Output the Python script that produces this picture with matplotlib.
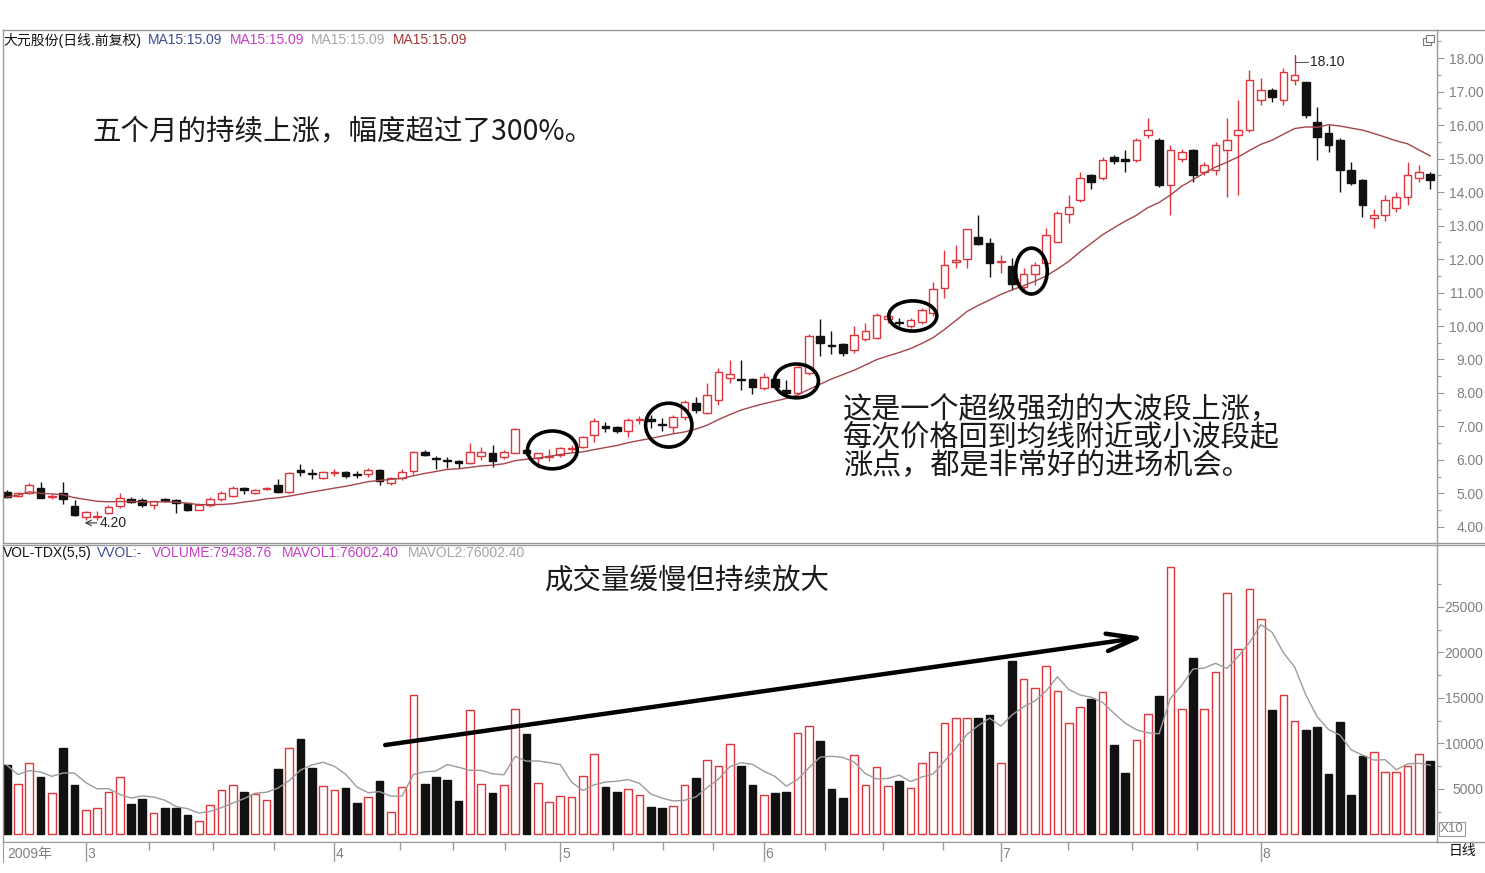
import matplotlib
matplotlib.use("Agg")
import matplotlib.pyplot as plt
import numpy as np
import pandas as pd
from matplotlib.patches import Ellipse, Rectangle
from matplotlib.lines import Line2D

plt.rcParams["font.family"] = ["Liberation Sans", "Noto Sans CJK SC", "DejaVu Sans"]

# daily candles, 2009 (大元股份, 前复权)
opens = [5.05, 4.91, 5.01, 5.17, 4.90, 5.00, 4.63, 4.29, 4.31, 4.43,
         4.63, 4.83, 4.81, 4.66, 4.82, 4.79, 4.71, 4.51, 4.66, 4.83,
         4.93, 5.17, 5.00, 5.13, 5.25, 5.05, 5.69, 5.62, 5.45, 5.62,
         5.65, 5.58, 5.57, 5.70, 5.32, 5.45, 5.68, 6.25, 6.07, 6.00,
         5.98, 5.90, 6.12, 6.22, 6.08, 6.22, 6.30, 6.05, 6.10, 6.15,
         6.33, 6.40, 6.75, 7.00, 6.97, 6.85, 7.20, 7.22, 7.08, 6.98,
         7.27, 7.69, 7.41, 7.79, 8.44, 8.43, 8.42, 8.14, 8.41, 8.09,
         7.99, 8.60, 9.70, 9.42, 9.45, 9.28, 9.60, 9.63, 10.20, 10.12,
         10.00, 10.12, 10.40, 11.13, 11.90, 11.99, 12.67, 12.49, 11.90, 11.80,
         11.16, 11.55, 11.87, 12.52, 13.34, 13.76, 14.50, 14.42, 15.05, 14.98,
         14.96, 15.70, 15.55, 14.21, 15.00, 15.25, 14.60, 14.66, 15.25, 15.70,
         15.85, 16.75, 17.04, 16.75, 17.34, 17.28, 16.09, 15.76, 15.55, 14.66,
         14.36, 13.22, 13.31, 13.52, 13.84, 14.41, 14.55]
highs = [5.10, 5.05, 5.30, 5.35, 4.98, 5.35, 4.79, 4.47, 4.48, 4.65,
         5.01, 4.88, 4.87, 4.78, 4.85, 4.82, 4.72, 4.70, 4.88, 5.07,
         5.22, 5.19, 5.12, 5.20, 5.43, 5.63, 5.88, 5.72, 5.66, 5.72,
         5.68, 5.67, 5.76, 5.72, 5.48, 5.72, 6.28, 6.30, 6.12, 6.10,
         6.00, 6.52, 6.40, 6.45, 6.30, 6.95, 6.32, 6.22, 6.34, 6.40,
         6.44, 6.72, 7.25, 7.13, 7.00, 7.25, 7.30, 7.34, 7.24, 7.35,
         7.78, 7.89, 8.29, 8.74, 8.98, 8.98, 8.44, 8.60, 8.45, 8.40,
         8.80, 9.75, 10.20, 9.85, 9.50, 10.00, 10.10, 10.40, 10.35, 10.25,
         10.25, 10.55, 11.30, 12.27, 12.42, 12.90, 13.31, 12.62, 12.12, 12.02,
         11.72, 11.92, 12.92, 13.42, 13.90, 14.60, 14.55, 15.05, 15.10, 15.25,
         15.60, 16.20, 15.60, 15.40, 15.30, 15.30, 14.90, 15.50, 16.20, 16.75,
         17.64, 17.40, 17.10, 17.70, 18.10, 17.30, 16.54, 16.00, 15.60, 14.90,
         14.40, 13.50, 13.90, 14.00, 14.90, 14.80, 14.60]
lows = [4.85, 4.88, 4.97, 4.85, 4.83, 4.68, 4.33, 4.20, 4.22, 4.38,
        4.56, 4.70, 4.60, 4.54, 4.73, 4.43, 4.49, 4.50, 4.60, 4.78,
        4.90, 4.98, 4.98, 5.10, 5.02, 5.00, 5.52, 5.42, 5.42, 5.52,
        5.45, 5.46, 5.50, 5.25, 5.25, 5.40, 5.58, 6.12, 5.72, 5.75,
        5.75, 5.88, 6.00, 5.80, 6.02, 6.20, 6.15, 5.75, 5.98, 6.10,
        6.20, 6.35, 6.55, 6.83, 6.80, 6.70, 7.08, 6.94, 6.85, 6.80,
        7.20, 7.40, 7.38, 7.64, 8.29, 8.09, 7.97, 8.10, 8.12, 7.95,
        7.90, 8.55, 9.10, 9.15, 9.10, 9.20, 9.55, 9.60, 10.10, 10.00,
        9.95, 10.05, 10.30, 10.83, 11.72, 11.72, 12.42, 11.47, 11.57, 11.07,
        11.07, 11.22, 11.80, 12.50, 13.07, 13.70, 14.10, 14.35, 14.85, 14.60,
        14.90, 15.60, 14.15, 13.31, 14.90, 14.30, 14.50, 14.50, 13.85, 13.90,
        15.80, 16.60, 16.70, 16.60, 17.20, 16.20, 14.96, 15.20, 14.00, 14.20,
        13.25, 12.93, 13.15, 13.40, 13.60, 14.30, 14.10]
closes = [4.89, 5.01, 5.25, 4.86, 4.92, 4.83, 4.35, 4.44, 4.34, 4.61,
          4.86, 4.73, 4.66, 4.76, 4.77, 4.71, 4.51, 4.65, 4.83, 5.00,
          5.16, 5.10, 5.10, 5.16, 5.05, 5.60, 5.65, 5.59, 5.63, 5.64,
          5.52, 5.55, 5.70, 5.38, 5.45, 5.65, 6.25, 6.15, 6.03, 5.97,
          5.90, 6.25, 6.25, 5.98, 6.25, 6.92, 6.20, 6.20, 6.13, 6.35,
          6.36, 6.70, 7.15, 6.95, 6.85, 7.20, 7.23, 7.17, 7.05, 7.27,
          7.74, 7.49, 7.94, 8.64, 8.56, 8.40, 8.19, 8.49, 8.17, 7.99,
          8.79, 9.70, 9.50, 9.40, 9.20, 9.72, 9.85, 10.33, 10.30, 10.10,
          10.17, 10.47, 11.10, 11.82, 11.97, 12.89, 12.45, 11.89, 11.93, 11.25,
          11.55, 11.82, 12.72, 13.38, 13.54, 14.42, 14.30, 14.96, 14.92, 14.94,
          15.55, 15.85, 14.21, 15.25, 15.20, 14.50, 14.80, 15.40, 15.55, 15.85,
          17.34, 17.04, 16.84, 17.58, 17.49, 16.30, 15.64, 15.40, 14.66, 14.27,
          13.61, 13.31, 13.76, 13.85, 14.52, 14.60, 14.37]
volumes = [7600, 5530, 7880, 6340, 4500, 9450, 5420, 2670, 2930, 4620,
           6340, 3330, 3880, 2310, 2860, 2860, 2160, 1500, 3190, 4910,
           5380, 4620, 4470, 3740, 7140, 9450, 10500, 7250, 5270, 4910,
           5050, 3480, 4140, 5860, 2420, 5160, 15300, 5570, 6340, 5970,
           3630, 13630, 5530, 4500, 5380, 13740, 11020, 5680, 3590, 4250,
           4100, 6450, 8790, 5160, 4650, 5020, 4360, 3000, 2860, 3080,
           5380, 6230, 8130, 7470, 9960, 7510, 5420, 4360, 4540, 4620,
           11130, 11900, 10220, 5020, 3990, 8680, 5380, 7360, 5270, 5820,
           5130, 7880, 9050, 12270, 12820, 12820, 12820, 13080, 7880, 19090,
           17110, 16080, 18540, 15710, 12200, 13990, 14840, 15680, 9850, 6700,
           10330, 13190, 15160, 29340, 13740, 19340, 13740, 17800, 26480, 20370,
           26920, 23630, 13630, 15270, 12450, 11430, 11790, 6590, 12310, 4290,
           8570, 9010, 6810, 6810, 7510, 8870, 8020]

month_starts = [7, 29, 49, 67, 88, 111]
month_labels = ["3", "4", "5", "6", "7", "8"]
week_ticks = [12.6, 18.3, 23.7, 34.8, 39.5, 44.1, 53.7, 58.1, 62.5,
              72.4, 77.6, 82.9, 93.9, 99.6, 105.4]

RED = "#e0353c"
BLK = "#111111"
MA_COL = "#a3464a"
GRID = "#9a9a9a"
TXT = "#808080"
CJK = ["Noto Sans CJK SC", "DejaVu Sans"]

W, H = 1485, 873


def rect(x0, y0, x1, y1):
    return [x0 / W, 1 - y1 / H, (x1 - x0) / W, (y1 - y0) / H]


def hline(y, x0, x1, color=GRID, lw=1.0):
    fig.add_artist(Line2D([x0 / W, x1 / W], [1 - y / H, 1 - y / H], color=color, lw=lw))


o = np.array(opens)
c = np.array(closes)
hi = np.array(highs)
lo = np.array(lows)
x = np.arange(len(o))
up = c >= o
col = np.where(up, RED, BLK)
face = np.where(up, "white", BLK)

fig = plt.figure(figsize=(W / 100, H / 100), dpi=100)
ax1 = fig.add_axes(rect(3, 30, 1437, 543))
ax2 = fig.add_axes(rect(3, 545, 1437, 842))
ax3 = fig.add_axes(rect(3, 842, 1437, 862))

# price panel
ax1.vlines(x, lo, hi, colors=col, lw=1, zorder=1)
ax1.bar(x, np.maximum(np.abs(c - o), 0.02), bottom=np.minimum(o, c), width=0.68,
        color=face, edgecolor=col, lw=1, zorder=2)
ma15 = pd.Series(closes).rolling(15, min_periods=1).mean()
ax1.plot(x, ma15, color=MA_COL, lw=1, zorder=3)
ax1.set_xlim(-0.33, 126.6)
ax1.set_ylim(3.52, 18.84)

# volume panel
ax2.bar(x, volumes, width=0.68, color=face, edgecolor=col, lw=1)
mavol = pd.Series(volumes).rolling(5, min_periods=1).mean()
ax2.plot(x, mavol, color="#9c9c9c", lw=1)
ax2.set_xlim(-0.33, 126.6)
ax2.set_ylim(-846, 31790)

for ax, major, minor, fmt in [
    (ax1, np.arange(4, 19), np.arange(4.5, 18.6, 1.0), "{:.2f}"),
    (ax2, np.arange(5000, 25001, 5000), np.arange(2500, 27501, 5000), "{:d}"),
]:
    ax.set_xticks([])
    ax.yaxis.tick_right()
    ax.set_yticks(major)
    ax.set_yticks(minor, minor=True)
    ax.set_yticklabels([fmt.format(v) for v in major])
    ax.tick_params(axis="y", which="major", length=5, width=0.8, color=GRID,
                   labelcolor=TXT, labelsize=10, pad=28.5)
    ax.tick_params(axis="y", which="minor", length=3, width=0.8, color=GRID)
    plt.setp(ax.get_yticklabels(), ha="right")
    for s in ax.spines.values():
        s.set_color(GRID)
        s.set_linewidth(1)

# date strip
ax3.set_xlim(-0.33, 126.6)
ax3.set_ylim(0, 1)
ax3.set_xticks([])
ax3.set_yticks([])
for name in ["bottom", "right"]:
    ax3.spines[name].set_visible(False)
for name in ["top", "left"]:
    ax3.spines[name].set_color(GRID)
ax3.vlines(month_starts, 0, 1, color=GRID, lw=1)
ax3.vlines(week_ticks, 0.62, 1, color=GRID, lw=1)
ax3.text(0.05, 0.42, "2009年", color=TXT, fontsize=10, va="center", ha="left")
for m, lab in zip(month_starts, month_labels):
    ax3.text(m + 0.15, 0.42, lab, color=TXT, fontsize=10, va="center", ha="left")

# headers
y_h1 = 1 - 40 / H
fig.text(3 / W, y_h1, "大元股份(日线.前复权)", fontsize=10, va="center", color="#111111")
for xp, cc in [(148, "#3f4b8f"), (230, "#c43fc4"), (311, "#a6a6a6"), (393, "#a33434")]:
    fig.text(xp / W, y_h1, "MA15:15.09", fontsize=10, va="center", color=cc)
y_h2 = 1 - 553 / H
fig.text(3 / W, y_h2, "VOL-TDX(5,5)", fontsize=10, va="center", color="#111111")
fig.text(97 / W, y_h2, "VVOL:-", fontsize=10, va="center", color="#3f4b8f")
fig.text(152 / W, y_h2, "VOLUME:79438.76", fontsize=10, va="center", color="#c43fc4")
fig.text(282 / W, y_h2, "MAVOL1:76002.40", fontsize=10, va="center", color="#c43fc4")
fig.text(408 / W, y_h2, "MAVOL2:76002.40", fontsize=10, va="center", color="#a6a6a6")

# high / low marks
ax1.annotate("18.10", xy=(114, 18.10), xytext=(115.4, 17.88), fontsize=10, color="#222222",
             va="center", ha="left",
             arrowprops=dict(arrowstyle="-", lw=0.8, color="#555555", shrinkA=0, shrinkB=0,
                             connectionstyle="angle,angleA=180,angleB=90,rad=0"))
ax1.annotate("4.20", xy=(6.9, 4.12), xytext=(8.2, 4.12), fontsize=10, color="#222222",
             va="center", ha="left",
             arrowprops=dict(arrowstyle="->", lw=0.8, color="#333333", shrinkA=0, shrinkB=0))

# circled pull-backs to the moving average
for cx, cy, ew, eh in [(48.3, 6.30, 4.4, 1.13), (58.6, 7.04, 4.1, 1.31),
                       (69.9, 8.36, 3.9, 1.01), (80.2, 10.30, 4.25, 0.90),
                       (90.7, 11.64, 2.8, 1.37)]:
    ax1.add_patch(Ellipse((cx, cy), ew, eh, fill=False, lw=2.6, ec="black", zorder=5))

# volume trend arrow
ax2.annotate("", xy=(100.7, 21680), xytext=(33.5, 9810),
             arrowprops=dict(arrowstyle="->,head_length=1.2,head_width=0.35", lw=3.2,
                             color="black", mutation_scale=18, shrinkA=0, shrinkB=0))

# commentary
fig.text(92 / W, 1 - 131 / H, "五个月的持续上涨，幅度超过了300%。", fontsize=20.5,
         va="center", ha="left", family=CJK, color="#1a1a1a")
for k, line in enumerate(["这是一个超级强劲的大波段上涨，",
                          "每次价格回到均线附近或小波段起",
                          "涨点，都是非常好的进场机会。"]):
    fig.text(843 / W, 1 - (410 + 28 * k) / H, line, fontsize=21, va="center", ha="left",
             family=CJK, color="#1a1a1a")
fig.text(545 / W, 1 - 581 / H, "成交量缓慢但持续放大", fontsize=20.5, va="center", ha="left",
         family=CJK, color="#1a1a1a")

# frame bits on the right side
hline(30, 1437, 1485)
hline(543, 1437, 1485)
hline(545, 1437, 1485)
hline(842, 1437, 1485)
fig.add_artist(Rectangle((1439 / W, 1 - 836 / H), 26 / W, 14 / H, fill=False, ec=GRID, lw=0.8))
fig.text(1452 / W, 1 - 829 / H, "X10", fontsize=9.5, color=TXT, ha="center", va="center")
fig.text(1462 / W, 1 - 851 / H, "日线", fontsize=10, color="#111111", ha="center", va="center")
fig.add_artist(Rectangle((1423 / W, 1 - 45 / H), 8 / W, 7 / H, fill=False, ec="#777777", lw=0.8))
fig.add_artist(Rectangle((1426 / W, 1 - 42 / H), 8 / W, 7 / H, fill=True, fc="white",
                         ec="#777777", lw=0.8))

fig.savefig("out.png", dpi=100)
